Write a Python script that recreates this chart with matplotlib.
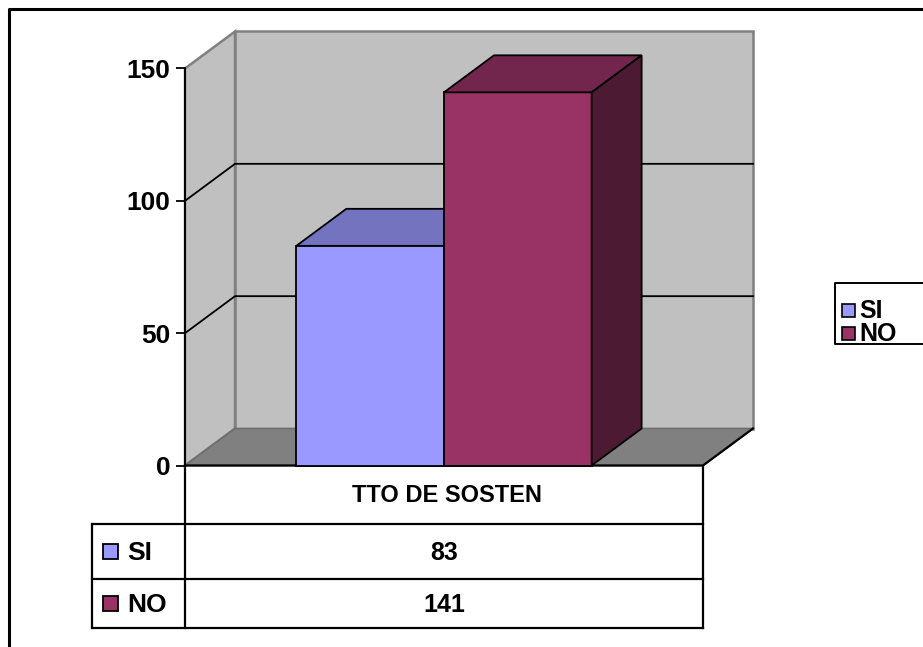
import matplotlib
matplotlib.use("Agg")
import matplotlib.pyplot as plt
from matplotlib.patches import Polygon, Rectangle

plt.rcParams['font.family'] = ['Liberation Sans', 'DejaVu Sans']
plt.rcParams['font.weight'] = 'bold'

# ---- data ----
category = "TTO DE SOSTEN"
series_names = ["SI", "NO"]
series_values = [83, 141]
front_colors = ["#9999ff", "#993366"]
top_colors = ["#7373bf", "#73264d"]
side_colors = ["#5c5c99", "#4d1a33"]
yticks = [0, 50, 100, 150]

W, H = 923, 647
fig = plt.figure(figsize=(W / 100, H / 100), dpi=100)
fig.patch.set_facecolor("white")

# overlay in pixel coordinates for frame, table and legend
ov = fig.add_axes([0, 0, 1, 1], zorder=0)
ov.set_xlim(0, W)
ov.set_ylim(H, 0)
ov.axis("off")
ov.patch.set_visible(False)

# plotting axes: front plane of the 3-D box
x_left, x_right = 185, 703
y_zero, y_top = 465.5, 68.5
ax = fig.add_axes([x_left / W, (H - y_zero) / H, (x_right - x_left) / W,
                   (y_zero - y_top) / H], zorder=1)
ax.patch.set_visible(False)
ymax = 150
ax.set_ylim(0, ymax)
ax.set_xlim(-0.5, 0.5)

px_per_unit = (y_zero - y_top) / ymax
px_per_x = (x_right - x_left) / 1.0
ddx = 50 / px_per_x          # depth offset in data units
ddy = 37 / px_per_unit

x0, x1 = -0.5, 0.5
wall = "#c0c0c0"
edge_gray = "#808080"

# back wall
ax.add_patch(Polygon([(x0 + ddx, ddy), (x1 + ddx, ddy), (x1 + ddx, ymax + ddy),
                      (x0 + ddx, ymax + ddy)], closed=True, facecolor=wall,
                     edgecolor=edge_gray, lw=1.8, clip_on=False, zorder=1))
# side wall
ax.add_patch(Polygon([(x0, 0), (x0 + ddx, ddy), (x0 + ddx, ymax + ddy), (x0, ymax)],
                     closed=True, facecolor=wall, edgecolor=edge_gray, lw=1.8,
                     clip_on=False, zorder=1))
# floor
ax.add_patch(Polygon([(x0, 0), (x1, 0), (x1 + ddx, ddy), (x0 + ddx, ddy)],
                     closed=True, facecolor="#808080", edgecolor="#6e6e6e", lw=1.2,
                     clip_on=False, zorder=2))
ax.plot([x0, x1, x1 + ddx], [0, 0, ddy], color="black", lw=1.6,
        clip_on=False, zorder=3)

# gridlines across side and back walls
for v in yticks[1:-1]:
    ax.plot([x0, x0 + ddx, x1 + ddx], [v, v + ddy, v + ddy], color="black",
            lw=1.3, clip_on=False, zorder=2)

# bars
bw = 0.285
lefts = [-bw, 0.0]
ax.bar([l + bw / 2 for l in lefts], series_values, width=bw, color=front_colors,
       edgecolor="black", linewidth=1.3, clip_on=False, zorder=5)
for i, (l, v) in enumerate(zip(lefts, series_values)):
    r = l + bw
    ax.add_patch(Polygon([(l, v), (r, v), (r + ddx, v + ddy), (l + ddx, v + ddy)],
                         closed=True, facecolor=top_colors[i], edgecolor="black",
                         lw=1.3, clip_on=False, zorder=4 + i * 2))
    ax.add_patch(Polygon([(r, 0), (r + ddx, ddy), (r + ddx, v + ddy), (r, v)],
                         closed=True, facecolor=side_colors[i], edgecolor="black",
                         lw=1.3, clip_on=False, zorder=4 + i * 2))

# axis styling
for s in ["top", "right", "bottom"]:
    ax.spines[s].set_visible(False)
ax.spines["left"].set_linewidth(1.4)
ax.spines["left"].set_zorder(6)
ax.set_xticks([])
ax.set_yticks(yticks)
ax.tick_params(axis="y", length=6.5, width=1.3, pad=4, labelsize=19)
for t in ax.get_yticklabels():
    t.set_fontweight("bold")

# ---- data table ----
lw_t = 1.6
tl, tlab = 92, 185
r0, r1, r2, r3 = 466, 524, 579, 628
ov.plot([tlab, tlab], [r0, r3], color="black", lw=lw_t)
ov.plot([x_right, x_right], [r0, r3], color="black", lw=lw_t)
ov.plot([tl, tl], [r1, r3], color="black", lw=lw_t)
for yy in (r1, r2, r3):
    ov.plot([tl, x_right], [yy, yy], color="black", lw=lw_t)
ov.text((tlab + x_right) / 2 + 3, (r0 + r1) / 2 + 1, category, ha="center",
        va="center", fontsize=17, fontweight="bold")
rows = [(r1, r2), (r2, r3)]
for i, (ya, yb) in enumerate(rows):
    yc = (ya + yb) / 2
    ov.add_patch(Rectangle((103, yc - 7.5), 15, 15, facecolor=front_colors[i],
                           edgecolor="black", lw=1.3))
    ov.text(127, yc + 1, series_names[i], ha="left", va="center", fontsize=19,
            fontweight="bold")
    ov.text((tlab + x_right) / 2, yc + 1, str(series_values[i]), ha="center",
            va="center", fontsize=18, fontweight="bold")

# ---- legend ----
lg_l, lg_t, lg_b = 835, 283, 344
ov.plot([W + 5, lg_l, lg_l, W + 5], [lg_t, lg_t, lg_b, lg_b], color="black", lw=1.4,
        clip_on=False)
for i, yc in enumerate([310, 333]):
    ov.add_patch(Rectangle((842, yc - 6.5), 13, 13, facecolor=front_colors[i],
                           edgecolor="black", lw=1.2))
    ov.text(859, yc + 1, series_names[i], ha="left", va="center", fontsize=18,
            fontweight="bold")

# outer frame
ov.plot([W + 5, 9, 9], [9, 9, H + 5], color="black", lw=2.2, clip_on=False)

fig.savefig("out.png", dpi=100, facecolor="white")
